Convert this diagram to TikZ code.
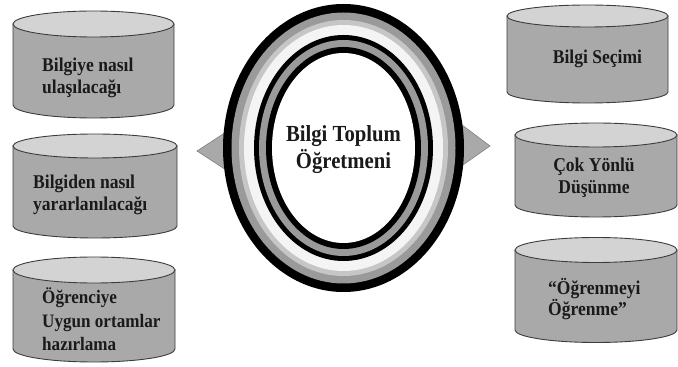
\documentclass[tikz,border=0pt]{standalone}
\usepackage{fontspec}
\setmainfont[FakeStretch=0.9]{Liberation Serif}
\definecolor{drumgray}{HTML}{A9A9A9}
\definecolor{drumlight}{HTML}{D3D3D3}
\definecolor{drumline}{HTML}{3C3C3C}
\definecolor{ringgray}{HTML}{9A9A9A}
\definecolor{ringlight}{HTML}{C6C6C6}
\definecolor{ringwhite}{HTML}{F4F4F4}
\definecolor{inktext}{HTML}{1A1A1A}
\begin{document}
\begin{tikzpicture}[x=1pt,y=1pt,
	drumbody/.style={draw=drumline,fill=drumgray,line width=0.9pt},
	drumtop/.style={draw=drumline,fill=drumlight,line width=0.9pt},
	wedge/.style={draw=gray,fill=drumgray,line width=0.6pt},
	drumtext/.style={inner sep=0pt,text=inktext,font=\bfseries\fontsize{19.5}{22}\selectfont}]
	\useasboundingbox (0,0) rectangle (678,367);
	% left drums
	\filldraw[drumbody] (13,343) -- (13,262) arc (180:360:80.5pt and 13pt) -- (174,343) -- cycle;
	\filldraw[drumtop] (93.5,343) ellipse (80.5pt and 13pt);
	\filldraw[drumbody] (13,221) -- (13,141) arc (180:360:82pt and 12pt) -- (177,221) -- cycle;
	\filldraw[drumtop] (95,221) ellipse (82pt and 12pt);
	\filldraw[drumbody] (13,97) -- (13,18) arc (180:360:81pt and 13pt) -- (175,97) -- cycle;
	\filldraw[drumtop] (94,97) ellipse (81pt and 13pt);
	% right drums
	\filldraw[drumbody] (507,351) -- (507,275) arc (180:360:80.5pt and 11pt) -- (668,351) -- cycle;
	\filldraw[drumtop] (587.5,351) ellipse (80.5pt and 11pt);
	\filldraw[drumbody] (515,232) -- (515,162) arc (180:360:81pt and 12pt) -- (677,232) -- cycle;
	\filldraw[drumtop] (596,232) ellipse (81pt and 12pt);
	\filldraw[drumbody] (515,117) -- (515,37) arc (180:360:81pt and 12.5pt) -- (677,117) -- cycle;
	\filldraw[drumtop] (596,117) ellipse (81pt and 12.5pt);
	% side wedges
	\filldraw[wedge] (197,216) -- (240,244) -- (240,188) -- cycle;
	\filldraw[wedge] (490,221) -- (450,251) -- (450,193) -- cycle;
	% rings
	\fill[black] (343.5,219) ellipse (120.5pt and 144pt);
	\fill[ringgray] (343.5,219) ellipse (112pt and 135.5pt);
	\fill[ringlight] (343.5,219) ellipse (104.5pt and 128pt);
	\fill[ringwhite] (343.5,219) ellipse (99.5pt and 123pt);
	\fill[black] (343.5,219) ellipse (89.5pt and 113pt);
	\fill[ringgray] (343.5,219) ellipse (84.5pt and 108pt);
	\fill[black] (343.5,219) ellipse (77.5pt and 101pt);
	\fill[white] (343.5,219) ellipse (71.5pt and 95pt);
	% labels
	\node[drumtext,anchor=west,align=left] (access) at (42,289.5) {Bilgiye nasıl\\ulaşılacağı};
	\node[drumtext,anchor=west,align=left] (usage) at (33,172) {Bilgiden nasıl\\yararlanılacağı};
	\node[drumtext,anchor=west,align=left,font=\bfseries\fontsize{19}{23.5}\selectfont] (setting) at (42,47.5) {Öğrenciye\\Uygun ortamlar\\hazırlama};
	\node[drumtext] (select) at (597.5,308) {Bilgi Seçimi};
	\node[drumtext,align=center] (multi) at (594,189.5) {Çok Yönlü\\Düşünme};
	\node[drumtext,anchor=west,align=left,font=\bfseries\fontsize{19.5}{20}\selectfont] (learn) at (548,68) {``Öğrenmeyi\\Öğrenme''};
	\node[drumtext,align=center,font=\bfseries\fontsize{23}{27}\selectfont] (teacher) at (343.5,217.5) {Bilgi Toplum\\Öğretmeni};
\end{tikzpicture}
\end{document}
